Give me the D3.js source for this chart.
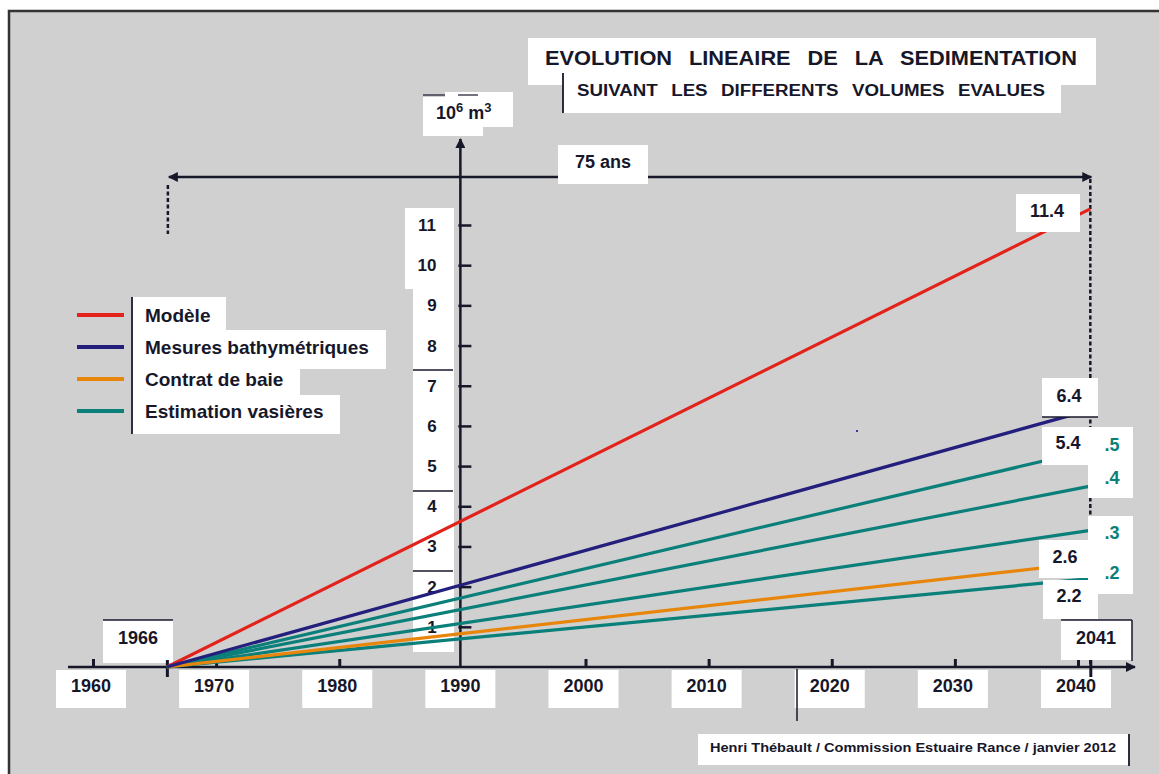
<!DOCTYPE html>
<html>
<head>
<meta charset="UTF-8">
<title>Evolution linéaire de la sédimentation</title>
<script src="https://cdn.jsdelivr.net/npm/d3@7"></script>
<style>
  body { margin: 0; background: #fff; }
  svg { display: block; font-family: "Liberation Sans", Arial, sans-serif; font-weight: bold; }
</style>
</head>
<body>
<svg width="1159" height="774"></svg>
<script>
// données
var startYear = 1966, endYear = 2041;
var decades = [1960, 1970, 1980, 1990, 2000, 2010, 2020, 2030, 2040];
var volumeTicks = [1, 2, 3, 4, 5, 6, 7, 8, 9, 10, 11];
var seriesNames = ["Modèle", "Mesures bathymétriques", "Contrat de baie", "Estimation vasières"];
var seriesColors = ["#e3231b", "#241f7d", "#e8860c", "#0b7f79"];
// volumes atteints en 2041 (10^6 m3)
var modeleEnd = [11.4];
var bathyEnd = [6.4];
var baieEnd = [2.6];
var vasieresEnd = [5.4, 4.5, 3.4, 2.2];
var endLabels = ["11.4", "6.4", "5.4", ".5", ".4", ".3", "2.6", ".2", "2.2"];

var ink = "#17172a";
var svg = d3.select("svg");

var x = d3.scaleLinear().domain([1960, 2040]).range([93, 1078]);
var y = d3.scaleLinear().domain([0, 11]).range([667, 225]);
var axisX = x(1990) - 2;

// fond + cadre
svg.append("rect").attr("x", 9).attr("y", 11).attr("width", 1200).attr("height", 800)
  .attr("fill", "#d0d0d0").attr("stroke", "#333").attr("stroke-width", 2.5);

function box(g, bx, by, w, h) {
  return g.append("rect").attr("x", bx).attr("y", by).attr("width", w).attr("height", h).attr("fill", "#fff");
}
function hline(g, x1, x2, yy, w) {
  g.append("line").attr("x1", x1).attr("x2", x2).attr("y1", yy).attr("y2", yy)
    .attr("stroke", ink).attr("stroke-width", w || 1.5);
}
function vline(g, xx, y1, y2, w) {
  g.append("line").attr("x1", xx).attr("x2", xx).attr("y1", y1).attr("y2", y2)
    .attr("stroke", ink).attr("stroke-width", w || 1.5);
}

// cases des graduations verticales
var yBoxes = svg.append("g");
box(yBoxes, 405, 208, 49, 81);
box(yBoxes, 413, 289, 41, 363);
[370, 491, 571].forEach(function(v) { hline(yBoxes, 413, 453, v, 1.5); });
yBoxes.selectAll("text").data(volumeTicks).enter().append("text")
  .attr("x", function(d) { return d >= 10 ? 427 : 432; })
  .attr("y", function(d) { return y(d) + 6; })
  .attr("text-anchor", "middle").attr("font-size", 17).attr("fill", ink)
  .text(function(d) { return d; });

// cases des années
var xBoxes = svg.append("g");
decades.forEach(function(d) {
  box(xBoxes, x(d) - 37, 670, 70, 38);
});
vline(xBoxes, 797, 669, 721, 1.5);
xBoxes.selectAll("text").data(decades).enter().append("text")
  .attr("x", function(d) { return x(d) - 2; })
  .attr("y", 692)
  .attr("text-anchor", "middle").attr("font-size", 18).attr("fill", ink)
  .text(function(d) { return d; });

box(xBoxes, 103, 620, 70, 43);
hline(xBoxes, 103, 173, 620, 1.5);
xBoxes.append("text").attr("x", 138).attr("y", 644).attr("text-anchor", "middle")
  .attr("font-size", 18).attr("fill", ink).text(startYear);

// flèches
var defs = svg.append("defs");
defs.append("marker").attr("id", "arrow").attr("viewBox", "0 0 10 10")
  .attr("refX", 9).attr("refY", 5).attr("markerWidth", 5).attr("markerHeight", 4)
  .attr("markerUnits", "strokeWidth").attr("orient", "auto-start-reverse")
  .append("path").attr("d", "M0,0L10,5L0,10z").attr("fill", ink);

// axe des années
svg.append("line").attr("x1", 68).attr("x2", 1135).attr("y1", 667).attr("y2", 667)
  .attr("stroke", ink).attr("stroke-width", 2.5).attr("marker-end", "url(#arrow)");
var gx = svg.append("g").attr("transform", "translate(0,667)")
  .call(d3.axisBottom(x).tickValues(decades.filter(function(d) { return d !== 1990; })).tickSize(-8).tickFormat(""));
gx.select(".domain").remove();
gx.selectAll(".tick line").attr("stroke", ink).attr("stroke-width", 3);
var gx2 = svg.append("g").attr("transform", "translate(0,660)")
  .call(d3.axisBottom(x).tickValues([startYear, endYear]).tickSize(17).tickFormat(""));
gx2.select(".domain").remove();
gx2.selectAll(".tick line").attr("stroke", ink).attr("stroke-width", 3);

// axe des volumes
svg.append("line").attr("x1", axisX).attr("x2", axisX).attr("y1", 667).attr("y2", 139)
  .attr("stroke", ink).attr("stroke-width", 2.5).attr("marker-end", "url(#arrow)");
var gy = svg.append("g").attr("transform", "translate(" + (axisX - 2) + ",0)")
  .call(d3.axisRight(y).tickValues(volumeTicks).tickSize(13).tickFormat(""));
gy.select(".domain").remove();
gy.selectAll(".tick line").attr("stroke", ink).attr("stroke-width", 2.5);

// droite verticale pointillée 2041
svg.append("line").attr("x1", x(endYear)).attr("x2", x(endYear)).attr("y1", 179).attr("y2", 667)
  .attr("stroke", ink).attr("stroke-width", 2.5).attr("stroke-dasharray", "4,2.5");
svg.append("line").attr("x1", x(startYear) + 1).attr("x2", x(startYear) + 1).attr("y1", 185).attr("y2", 234)
  .attr("stroke", ink).attr("stroke-width", 2.5).attr("stroke-dasharray", "4,2.5");

// droites de sédimentation
var lineGen = d3.line().x(function(d) { return x(d[0]); }).y(function(d) { return y(d[1]); });
var series = [];
modeleEnd.forEach(function(v) { series.push({ v: v, c: seriesColors[0] }); });
vasieresEnd.forEach(function(v) { series.push({ v: v, c: seriesColors[3] }); });
baieEnd.forEach(function(v) { series.push({ v: v, c: seriesColors[2] }); });
bathyEnd.forEach(function(v) { series.push({ v: v, c: seriesColors[1] }); });
svg.append("g").selectAll("path").data(series).enter().append("path")
  .attr("d", function(d) { return lineGen([[startYear, 0], [endYear, d.v]]); })
  .attr("fill", "none").attr("stroke", function(d) { return d.c; }).attr("stroke-width", 3.2);

svg.append("rect").attr("x", 856).attr("y", 430).attr("width", 2).attr("height", 2).attr("fill", "#3a3aa0");

// étiquettes de fin
var ends = svg.append("g").attr("font-size", 18);
box(ends, 1016, 194, 64, 38);
box(ends, 1042, 378, 56, 39); hline(ends, 1042, 1098, 417, 1.5);
box(ends, 1042, 427, 91, 38);
box(ends, 1088, 465, 45, 33);
box(ends, 1088, 516, 45, 78);
box(ends, 1039, 540, 50, 38);
box(ends, 1043, 580, 55, 39);
var labelPos = [
  [1047, 217, ink], [1069, 402, ink], [1068, 449, ink], [1112, 451, seriesColors[3]],
  [1112, 484, seriesColors[3]], [1112, 539, seriesColors[3]], [1065, 563, ink],
  [1112, 579, seriesColors[3]], [1069, 602, ink]
];
ends.selectAll("text").data(endLabels).enter().append("text")
  .attr("x", function(d, i) { return labelPos[i][0]; })
  .attr("y", function(d, i) { return labelPos[i][1]; })
  .attr("fill", function(d, i) { return labelPos[i][2]; })
  .attr("text-anchor", "middle").text(function(d) { return d; });

box(ends, 1061, 620, 71, 40);
hline(ends, 1061, 1132, 620, 1.5);
vline(ends, 1132, 620, 661, 1.5);
ends.append("text").attr("x", 1096).attr("y", 644).attr("text-anchor", "middle")
  .attr("fill", ink).text(endYear);

// flèche 75 ans
svg.append("line").attr("x1", x(startYear) + 2).attr("x2", x(endYear) + 1).attr("y1", 177).attr("y2", 177)
  .attr("stroke", ink).attr("stroke-width", 2.5)
  .attr("marker-start", "url(#arrow)").attr("marker-end", "url(#arrow)");
box(svg, 558, 145, 90, 39);
svg.append("text").attr("x", 603).attr("y", 168).attr("text-anchor", "middle")
  .attr("font-size", 18).attr("fill", ink).text((endYear - startYear) + " ans");

// unité
box(svg, 423, 97, 60, 39);
box(svg, 445, 92, 68, 35);
hline(svg, 423, 445, 95, 1.2);
hline(svg, 458, 478, 95, 1.2);
var unit = svg.append("text").attr("x", 436).attr("y", 119).attr("font-size", 18).attr("fill", ink);
unit.append("tspan").text("10");
unit.append("tspan").attr("dy", -7).attr("font-size", 13).text("6");
unit.append("tspan").attr("dy", 7).text(" m");
unit.append("tspan").attr("dy", -7).attr("font-size", 13).text("3");

// légende
var leg = svg.append("g");
var legRows = [
  { y: 315, bx: 131, by: 297, w: 95, h: 33 },
  { y: 347, bx: 131, by: 330, w: 255, h: 39 },
  { y: 379, bx: 131, by: 369, w: 169, h: 26 },
  { y: 411, bx: 131, by: 395, w: 209, h: 39 }
];
legRows.forEach(function(r) { box(leg, r.bx, r.by, r.w, r.h); });
vline(leg, 132, 297, 434, 1.8);
leg.selectAll("line.k").data(seriesNames).enter().append("line").attr("class", "k")
  .attr("x1", 77).attr("x2", 124)
  .attr("y1", function(d, i) { return legRows[i].y; })
  .attr("y2", function(d, i) { return legRows[i].y; })
  .attr("stroke", function(d, i) { return seriesColors[i]; }).attr("stroke-width", 4);
leg.selectAll("text").data(seriesNames).enter().append("text")
  .attr("x", 145).attr("y", function(d, i) { return legRows[i].y + 7; })
  .attr("font-size", 19).attr("fill", ink).text(function(d) { return d; });

// titre
box(svg, 528, 38, 568, 47);
box(svg, 563, 73, 498, 40);
vline(svg, 563, 73, 113, 1.8);
svg.append("text").attr("x", 545).attr("y", 65).attr("font-size", 20).attr("fill", ink)
  .attr("word-spacing", 10)
  .attr("textLength", 532).attr("lengthAdjust", "spacingAndGlyphs")
  .text("EVOLUTION LINEAIRE DE LA SEDIMENTATION");
svg.append("text").attr("x", 577).attr("y", 96).attr("font-size", 16).attr("fill", ink)
  .attr("word-spacing", 7)
  .attr("textLength", 468).attr("lengthAdjust", "spacingAndGlyphs")
  .text("SUIVANT LES DIFFERENTS VOLUMES EVALUES");

// source
box(svg, 698, 734, 431, 31);
vline(svg, 1129, 734, 766, 1.8);
svg.append("text").attr("x", 710).attr("y", 752).attr("font-size", 13).attr("fill", ink)
  .attr("textLength", 406).attr("lengthAdjust", "spacingAndGlyphs")
  .text("Henri Thébault  / Commission Estuaire Rance / janvier 2012");
</script>
</body>
</html>
